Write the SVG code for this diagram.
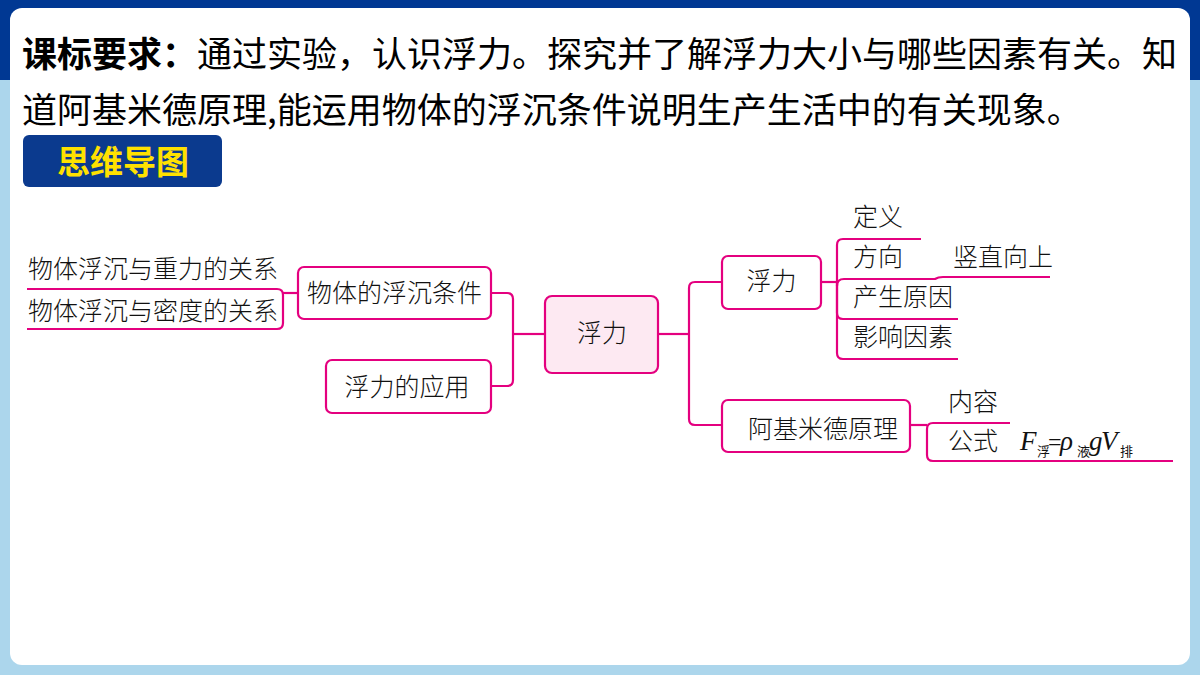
<svg xmlns="http://www.w3.org/2000/svg" width="1200" height="675" viewBox="0 0 1200 675">
  <style>
    .title { font-family: "Noto Sans CJK SC", "Noto Sans", sans-serif; font-size: 35px; fill: #000; }
    .node { font-family: "Noto Sans CJK SC", "Noto Sans", sans-serif; font-size: 25px; font-weight: 300; fill: #111; }
    .box { fill: #ffffff; stroke: #e4007f; stroke-width: 2.2; }
    .line { fill: none; stroke: #e4007f; stroke-width: 2.2; stroke-linejoin: round; }
    .math { font-family: "Liberation Serif", "DejaVu Serif", serif; font-size: 27px; font-style: italic; fill: #111; }
    .eq { font-family: "Liberation Serif", "DejaVu Serif", serif; font-size: 24px; fill: #111; }
    .sub { font-family: "Noto Sans CJK SC", sans-serif; font-size: 13px; fill: #111; }
  </style>

  <!-- background -->
  <rect x="0" y="0" width="1200" height="675" fill="#acd6ec"/>
  <rect x="0" y="0" width="1200" height="80" fill="#003893"/>
  <rect x="10" y="8" width="1180" height="657" rx="12" fill="#ffffff"/>

  <!-- heading text -->
  <g id="requirement">
    <text class="title" x="22" y="67"><tspan font-weight="bold">课标要求：</tspan>通过实验，认识浮力。探究并了解浮力大小与哪些因素有关。知</text>
    <text class="title" x="22" y="123">道阿基米德原理,能运用物体的浮沉条件说明生产生活中的有关现象。</text>
  </g>

  <g id="mindmap-label">
    <rect x="23" y="135" width="199" height="52" rx="6" fill="#0b3a8e"/>
    <text x="123" y="174" text-anchor="middle" font-family="'Noto Sans CJK SC', sans-serif" font-size="33" font-weight="bold" fill="#ffe100">思维导图</text>
  </g>

  <!-- connectors -->
  <g id="connectors">
    <!-- left bracket for 物体的浮沉条件 children -->
    <path class="line" d="M27,289 H277 Q283,289 283,295 V323 Q283,329 277,329 H27"/>
    <path class="line" d="M283,293 H298"/>
    <!-- center to left children -->
    <path class="line" d="M491,293 H507 Q513,293 513,299 V380 Q513,386 507,386 H491"/>
    <path class="line" d="M513,334 H545"/>
    <!-- center to right children -->
    <path class="line" d="M658,334 H689"/>
    <path class="line" d="M722,282 H695 Q689,282 689,288 V419 Q689,425 695,425 H722"/>
    <!-- 浮力 children -->
    <path class="line" d="M821,282 H837"/>
    <path class="line" d="M837,282 V245 Q837,239 843,239 H921"/>
    <path class="line" d="M837,286 Q837,279 844,279 H935 Q938,277 943,277 H1050"/>
    <path class="line" d="M837,282 V313 Q837,319 843,319 H958"/>
    <path class="line" d="M837,282 V353 Q837,359 843,359 H958"/>
    <!-- 阿基米德原理 children -->
    <path class="line" d="M910,425 H927"/>
    <path class="line" d="M1010,423 H933 Q927,423 927,429 V455 Q927,461 933,461 H1173"/>
  </g>

  <!-- nodes -->
  <g id="n-gravity">
    <text class="node" x="28" y="278">物体浮沉与重力的关系</text>
  </g>
  <g id="n-density">
    <text class="node" x="28" y="320">物体浮沉与密度的关系</text>
  </g>
  <g id="n-condition">
    <rect class="box" x="298" y="267" width="193" height="52" rx="6"/>
    <text class="node" x="394.5" y="302" text-anchor="middle">物体的浮沉条件</text>
  </g>
  <g id="n-application">
    <rect class="box" x="326" y="360" width="165" height="53" rx="6"/>
    <text class="node" x="407" y="396" text-anchor="middle">浮力的应用</text>
  </g>
  <g id="n-center">
    <rect class="box" x="545" y="296" width="113" height="77" rx="7" style="fill:#fde9f2"/>
    <text class="node" x="602" y="342" text-anchor="middle" font-size="28">浮力</text>
  </g>
  <g id="n-buoyancy">
    <rect class="box" x="722" y="256" width="99" height="53" rx="6"/>
    <text class="node" x="771.5" y="290" text-anchor="middle">浮力</text>
  </g>
  <g id="n-definition">
    <text class="node" x="853" y="226">定义</text>
  </g>
  <g id="n-direction">
    <text class="node" x="853" y="266">方向</text>
  </g>
  <g id="n-upward">
    <text class="node" x="953" y="266">竖直向上</text>
  </g>
  <g id="n-cause">
    <text class="node" x="853" y="306">产生原因</text>
  </g>
  <g id="n-factors">
    <text class="node" x="853" y="346">影响因素</text>
  </g>
  <g id="n-archimedes">
    <rect class="box" x="722" y="400" width="188" height="52" rx="6"/>
    <text class="node" x="748" y="438">阿基米德原理</text>
  </g>
  <g id="n-content">
    <text class="node" x="948" y="411">内容</text>
  </g>
  <g id="n-formula">
    <text class="node" x="948" y="450">公式</text>
    <text x="1020" y="450"><tspan class="math">F</tspan><tspan class="sub" x="1037" y="456">浮</tspan><tspan class="eq" x="1048" y="450">=</tspan><tspan class="math" x="1060" y="450">ρ</tspan><tspan class="sub" x="1077" y="456">液</tspan><tspan class="math" x="1089" y="450">g</tspan><tspan class="math" x="1101" y="450">V</tspan><tspan class="sub" x="1120" y="456">排</tspan></text>
  </g>
</svg>
